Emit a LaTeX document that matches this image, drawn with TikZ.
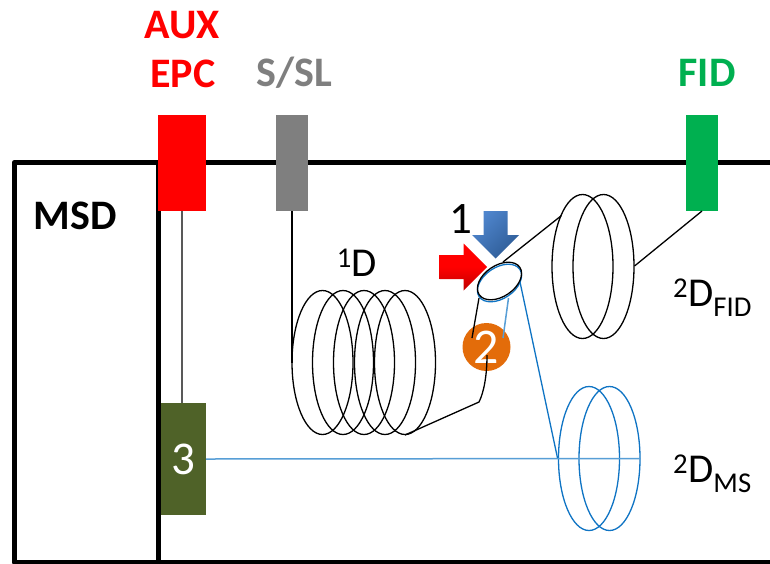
\documentclass[tikz,border=0pt]{standalone}
\usepackage{fontspec}
\setmainfont{Carlito}
\definecolor{ms}{HTML}{0F74C4}
\definecolor{olivebox}{HTML}{4F6228}
\definecolor{orangec}{HTML}{E36C0A}
\definecolor{fidgreen}{HTML}{00B050}
\definecolor{ssl}{HTML}{7F7F7F}
\definecolor{bluelight}{HTML}{4F86CE}
\definecolor{bluedark}{HTML}{2E5C96}
\usetikzlibrary{shapes.geometric}
\tikzset{
  frame/.style={line width=5pt,line join=round},
  port/.style={draw=none,minimum width=#1,inner sep=0pt,outer sep=0pt},
  coil/.style={draw=black,line width=1.3pt,ellipse,minimum width=61pt,minimum height=144pt,inner sep=0pt,outer sep=0pt},
  wire/.style={line width=1.3pt},
  head/.style={font=\bfseries\fontsize{42}{42}\selectfont,inner sep=0pt},
  lab/.style={font=\fontsize{41}{41}\selectfont,inner sep=0pt,text=black},
}
\begin{document}
\begin{tikzpicture}[x=1pt,y=-1pt]
\useasboundingbox (0,0) rectangle (770,563);
\fill[white] (0,0) rectangle (770,563);
% frame
\coordinate (fr) at (770,162.5);
\coordinate (fb) at (770,562);
\draw[frame] (fr) -- (14.3,162.5) -- (14.3,562) -- (fb);
\draw[frame] (158.3,162.5) -- (158.3,562);
% ports
\node[port=48pt,minimum height=96pt,fill=red] (aux) at (182,163) {};
\node[port=32pt,minimum height=96pt,fill=ssl] (ss) at (292,163) {};
\node[port=32pt,minimum height=96pt,fill=fidgreen] (fid) at (702,163) {};
\node[port=45pt,minimum height=112pt,fill=olivebox,text=white,font=\fontsize{47}{47}\selectfont] (three) at (183.5,459) {3};
% labels
\node[head,text=red] (t1) at (182,25) {AUX};
\node[head,text=red] (t2) at (183,74) {EPC};
\node[head,text=ssl] (t3) at (294,73) {S/SL};
\node[head,text=fidgreen] (t4) at (707,73) {FID};
\node[head,text=black] (t5) at (75,216) {MSD};
\node[lab,font=\fontsize{45}{45}\selectfont] (l1) at (461,219) {1};
\node[lab] (l2) at (357,263) {\textsuperscript{1}D};
\node[lab,anchor=west] (l3) at (673,298) {\textsuperscript{2}D\textsubscript{FID}};
\node[lab,anchor=west] (l4) at (673,474) {\textsuperscript{2}D\textsubscript{MS}};
% aux line
\draw[line width=1.3pt,black!65] (aux.south) -- (182,403);
% 1D coils
\foreach \n/\x in {a/322.5,b/343,c/364,d/385,e/405}
  \node[coil] (c\n) at (\x,362.5) {};
\draw[wire] (ss.south) -- (ca.west);
% FID coils
\node[coil] (fa) at (582.5,266.5) {};
\node[coil] (fb2) at (603.5,266.5) {};
\coordinate (fe) at (634.5,266);
\draw[wire] (fe) -- (fid.south);
\coordinate (inj) at (503,262);
\coordinate (fi) at (561.5,215.5);
\draw[wire] (inj) -- (fi);
% MS coils
\node[coil,draw=ms] (ma) at (589,458.5) {};
\node[coil,draw=ms] (mb) at (609.5,458.5) {};
\coordinate (mr) at (640.5,458.5);
\draw[line width=1.5pt,ms!70] (three.east) -- (mr);
% orange circle and links
\node[circle,fill=orangec,minimum size=48pt,inner sep=0pt,text=white,font=\fontsize{50}{50}\selectfont] (two) at (486.5,347) {2};
\coordinate (lb) at (405,435);
\coordinate (lk) at (479,402);
\coordinate (lt) at (487,355);
\coordinate (ua) at (479,298);
\coordinate (ub) at (472,338);
\coordinate (ba) at (508.5,298);
\coordinate (bb) at (503,338);
\coordinate (bt) at (520,282);
\coordinate (bm) at (557.5,458);
\draw[wire] (lb) -- (lk) .. controls (484,392) and (487,375) .. (lt);
\draw[wire] (ua) -- (ub);
\draw[line width=1.5pt,ms!70] (ba) -- (bb);
\draw[line width=1.3pt,ms] (bt) -- (bm);
% injector ellipses
\draw[line width=1.3pt,ms,rotate around={34:(499.5,283)}] (499.5,283) ellipse (24.5pt and 15.5pt);
\draw[line width=1.3pt,black,rotate around={34:(499.5,281)}] (499.5,281) ellipse (24.5pt and 15.5pt);
% arrows
\shade[top color=red,bottom color=red!75!black,middle color=red]
  (439.5,255) -- (463.5,255) -- (463.5,243.5) -- (487,267) -- (463.5,290.5) -- (463.5,279) -- (439.5,279) -- cycle;
\shade[left color=bluelight,right color=bluedark,shading angle=45]
  (483.5,211) -- (507.5,211) -- (507.5,235) -- (519,235) -- (495.5,258.5) -- (472,235) -- (483.5,235) -- cycle;
\end{tikzpicture}
\end{document}
